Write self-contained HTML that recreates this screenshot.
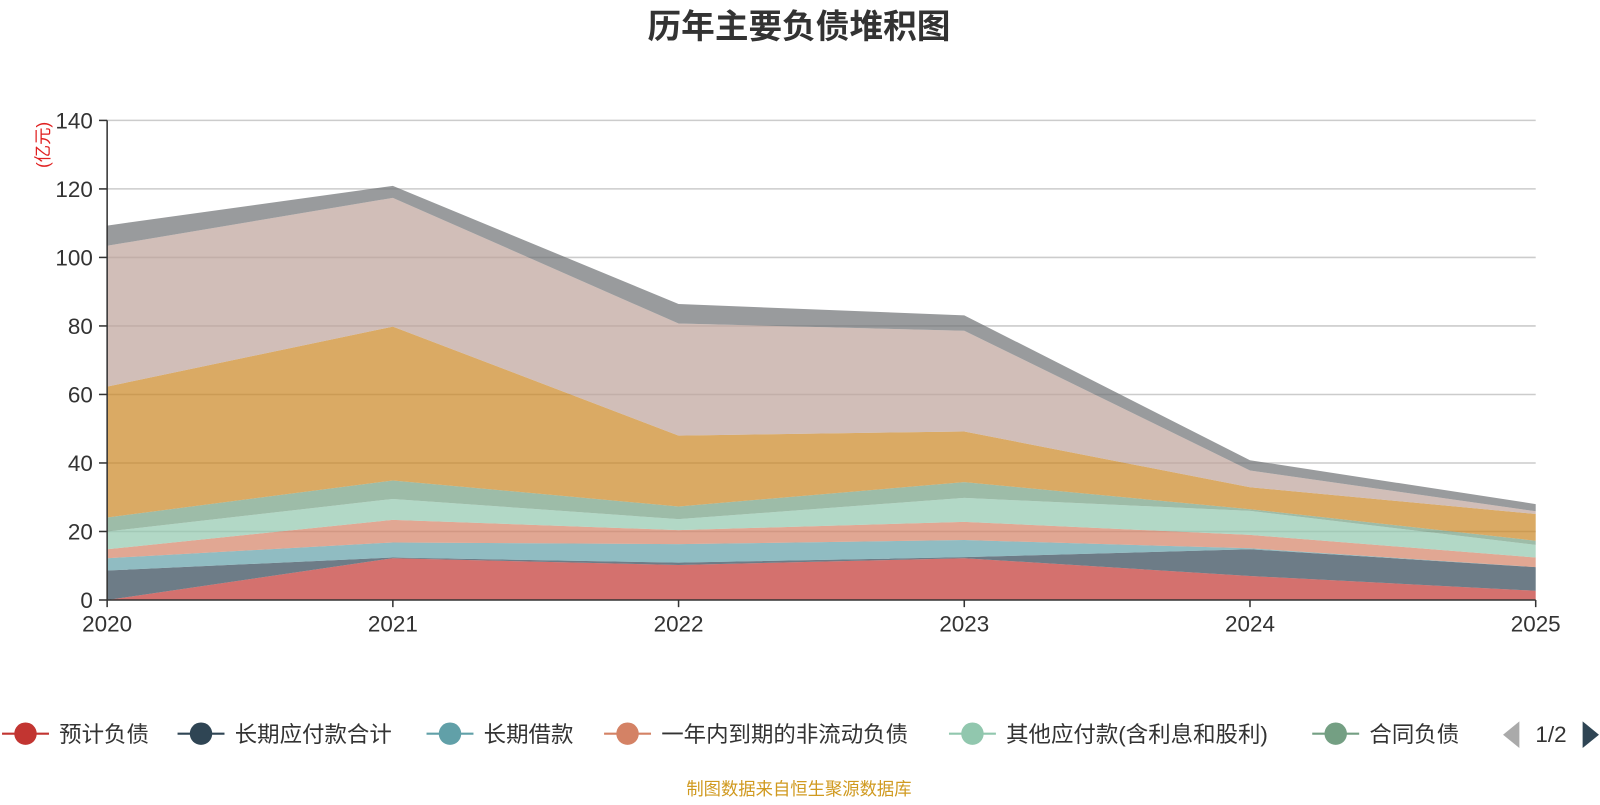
<!DOCTYPE html>
<html><head><meta charset="utf-8"><style>
body{margin:0;background:#fff;width:1600px;height:800px;overflow:hidden;font-family:"Liberation Sans","Noto Sans CJK SC",sans-serif}
svg text{font-family:"Liberation Sans","Noto Sans CJK SC",sans-serif}
</style></head><body>
<svg id="chart" width="1600" height="800">
<g transform="scale(1.0204)">
<text x="783" y="37" text-anchor="middle" font-size="33" font-weight="bold" fill="#333">历年主要负债堆积图</text>
<text transform="translate(48,142) rotate(-90)" text-anchor="middle" font-size="17" fill="#e02020">(亿元)</text>
<g id="grid"></g><g id="areas"></g><g id="axes"></g><g id="legend"></g>
<text x="783" y="779" text-anchor="middle" font-size="17" fill="#d09a20">制图数据来自恒生聚源数据库</text>
</g>
</svg>
<script>
const categories=["2020","2021","2022","2023","2024","2025"];
const yTicks=[0,20,40,60,80,100,120,140];
const seriesNames=["预计负债","长期应付款合计","长期借款","一年内到期的非流动负债","其他应付款(含利息和股利)","合同负债","应付账款","应付票据","其他负债"];
const s1=[0,12.2,10.2,12.2,7.0,2.7];
const s2=[8.6,0.2,0.7,0.3,7.8,6.9];
const s3=[3.6,4.4,5.4,5.0,0.3,0.0];
const s4=[2.6,6.6,4.1,5.3,3.9,2.8];
const s5=[5.2,6.1,3.2,7.0,7.0,3.7];
const s6=[4.1,5.4,3.7,4.6,0.5,1.2];
const s7=[38.2,44.9,20.7,14.8,6.4,7.8];
const s8=[41.1,37.6,32.7,29.4,4.9,0.8];
const s9=[5.9,3.5,5.7,4.5,3.0,2.1];
const seriesValues=[s1,s2,s3,s4,s5,s6,s7,s8,s9];
const colors=["#c23531","#2f4554","#61a0a8","#d48265","#91c7ae","#749f83","#ca8622","#bda29a","#6e7074"];
const NS="http://www.w3.org/2000/svg";
const X0=105,X1=1505,Y0=588,Y1=118,YMAX=140;
const xs=i=>X0+i*(X1-X0)/(categories.length-1);
const ys=v=>Y0-v*(Y0-Y1)/YMAX;
function mk(tag,attrs,parent){const e=document.createElementNS(NS,tag);for(const k in attrs)e.setAttribute(k,attrs[k]);parent.appendChild(e);return e;}
const grid=document.getElementById('grid'),axes=document.getElementById('axes'),areas=document.getElementById('areas'),legend=document.getElementById('legend');
yTicks.forEach(t=>{
  if(t>0){const g=mk('line',{x1:X0,x2:X1,y1:ys(t),y2:ys(t),stroke:'#ccc','stroke-width':1.5},grid);
  
  }
  const tk=mk('line',{x1:X0-8,x2:X0,y1:ys(t),y2:ys(t),stroke:'#333','stroke-width':1.5},axes);
  
  
  const lb=mk('text',{x:X0-14,y:ys(t)+8,'text-anchor':'end','font-size':22,fill:'#333'},axes);
  lb.textContent=t;
  
  
});
let base=categories.map(()=>0);
seriesValues.forEach((vals,si)=>{
  const top=base.map((b,i)=>b+vals[i]);
  let d='M'+categories.map((c,i)=>xs(i)+','+ys(top[i])).join(' L');
  for(let i=categories.length-1;i>=0;i--)d+=' L'+xs(i)+','+ys(base[i]);
  const p=mk('path',{d:d+'Z',fill:colors[si],'fill-opacity':0.7},areas);
  
  
  base=top;
});
const ax=mk('line',{x1:X0,x2:X0,y1:Y1,y2:Y0,stroke:'#333','stroke-width':1.5},axes);


const xa=mk('line',{x1:X0,x2:X1,y1:Y0,y2:Y0,stroke:'#333','stroke-width':1.5},axes);


categories.forEach((c,i)=>{
  const tk=mk('line',{x1:xs(i),x2:xs(i),y1:Y0,y2:Y0+7,stroke:'#333','stroke-width':1.5},axes);
  
  
  const t=mk('text',{x:xs(i),y:619,'text-anchor':'middle','font-size':22,fill:'#333'},axes);
  t.textContent=c;
  
  
});
const legX=[2,174,418,592,930,1286];
legX.forEach((lx,i)=>{
  const g=mk('g',{},legend);
  
  
  mk('line',{x1:lx,x2:lx+46,y1:719,y2:719,stroke:colors[i],'stroke-width':2},g);
  mk('circle',{cx:lx+23,cy:719,r:11,fill:colors[i]},g);
  const t=mk('text',{x:lx+56,y:727,'font-size':22,fill:'#333'},g);
  t.textContent=seriesNames[i];
});
const pl=mk('path',{d:'M1489,707 L1473,720 L1489,733 Z',fill:'#aaa'},legend);


const pt=mk('text',{x:1520,y:727,'text-anchor':'middle','font-size':22,fill:'#333'},legend);
pt.textContent='1/2';


const pn=mk('path',{d:'M1551,707 L1567,720 L1551,733 Z',fill:'#2f4554'},legend);


</script>
</body></html>
